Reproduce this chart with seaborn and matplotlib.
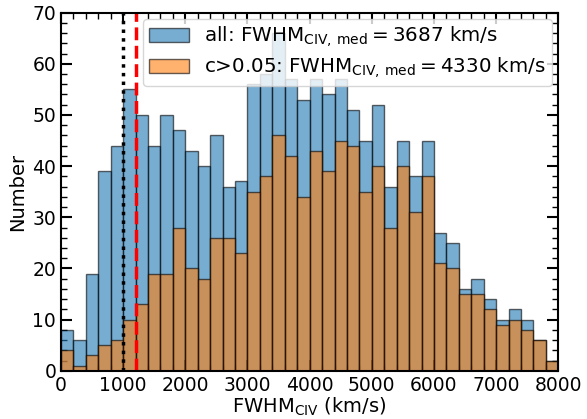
import numpy as np
import pandas as pd
import matplotlib
matplotlib.use("Agg")
import matplotlib.pyplot as plt
import seaborn as sns
from matplotlib.ticker import MultipleLocator

# bin edges (km/s)
bin_edges = list(range(0, 8001, 200))
# counts per bin, "all" sample
counts_all = [8, 6, 19, 39, 44, 55, 50, 44, 50, 47, 43, 40, 46, 36, 37, 56, 58, 66, 57, 53,
              57, 54, 57, 51, 45, 52, 36, 45, 38, 45, 27, 25, 16, 18, 14, 10, 12, 10, 6, 2]
# counts per bin, "c>0.05" sample
counts_c = [4, 1, 3, 5, 6, 10, 13, 19, 19, 28, 20, 18, 26, 26, 23, 35, 38, 46, 42, 34,
            43, 39, 45, 44, 35, 40, 28, 40, 31, 38, 21, 20, 15, 15, 12, 9, 10, 8, 6, 2]
med_all = 3687
med_c = 4330
line_black = 1000
line_red = 1200

centers = [(bin_edges[i] + bin_edges[i + 1]) / 2 for i in range(len(bin_edges) - 1)]
df_all = pd.DataFrame({"fwhm": centers, "n": counts_all})
df_c = pd.DataFrame({"fwhm": centers, "n": counts_c})

sns.set_style("ticks")
plt.rcParams["font.family"] = ["DejaVu Sans"]
plt.rcParams["mathtext.fontset"] = "dejavusans"
for k in ["text.color", "axes.labelcolor", "xtick.color", "ytick.color", "axes.edgecolor"]:
    plt.rcParams[k] = "black"

fig, ax = plt.subplots(figsize=(5.87, 4.19), dpi=100)
fig.subplots_adjust(left=0.104, right=0.951, top=0.970, bottom=0.115)

lab_all = r"all: FWHM$_{\rm CIV,\,med} = %d$ km/s" % med_all
lab_c = r"c>0.05: FWHM$_{\rm CIV,\,med} = %d$ km/s" % med_c

edge = (0, 0, 0, 0.6)
sns.histplot(data=df_all, x="fwhm", weights="n", bins=bin_edges, color="tab:blue",
             alpha=0.6, edgecolor=edge, linewidth=1.0, ax=ax, label=lab_all)
sns.histplot(data=df_c, x="fwhm", weights="n", bins=bin_edges, color="tab:orange",
             alpha=0.6, edgecolor=edge, linewidth=1.0, ax=ax, label=lab_c)

ax.axvline(line_black, color="black", linestyle=(0, (1, 1.5)), linewidth=2.5)
ax.axvline(line_red, color="red", linestyle="--", linewidth=2.5)

ax.set_xlim(0, 8000)
ax.set_ylim(0, 70)
ax.set_xlabel(r"FWHM$_{\rm CIV}$ (km/s)", fontsize=14, labelpad=1)
ax.set_ylabel("Number", fontsize=14)
ax.xaxis.set_major_locator(MultipleLocator(1000))
ax.xaxis.set_minor_locator(MultipleLocator(200))
ax.yaxis.set_major_locator(MultipleLocator(10))
ax.yaxis.set_minor_locator(MultipleLocator(2))
ax.tick_params(which="both", direction="in", top=True, right=True, labelsize=13.5)
ax.tick_params(which="major", length=8, width=1.5)
ax.tick_params(which="minor", length=4, width=1)
for s in ax.spines.values():
    s.set_linewidth(1.5)
    s.set_color("black")

ax.legend(loc="upper right", fontsize=14.3, labelspacing=0.3, borderpad=0.3,
          borderaxespad=0.3)
fig.savefig("out.png", dpi=100)
